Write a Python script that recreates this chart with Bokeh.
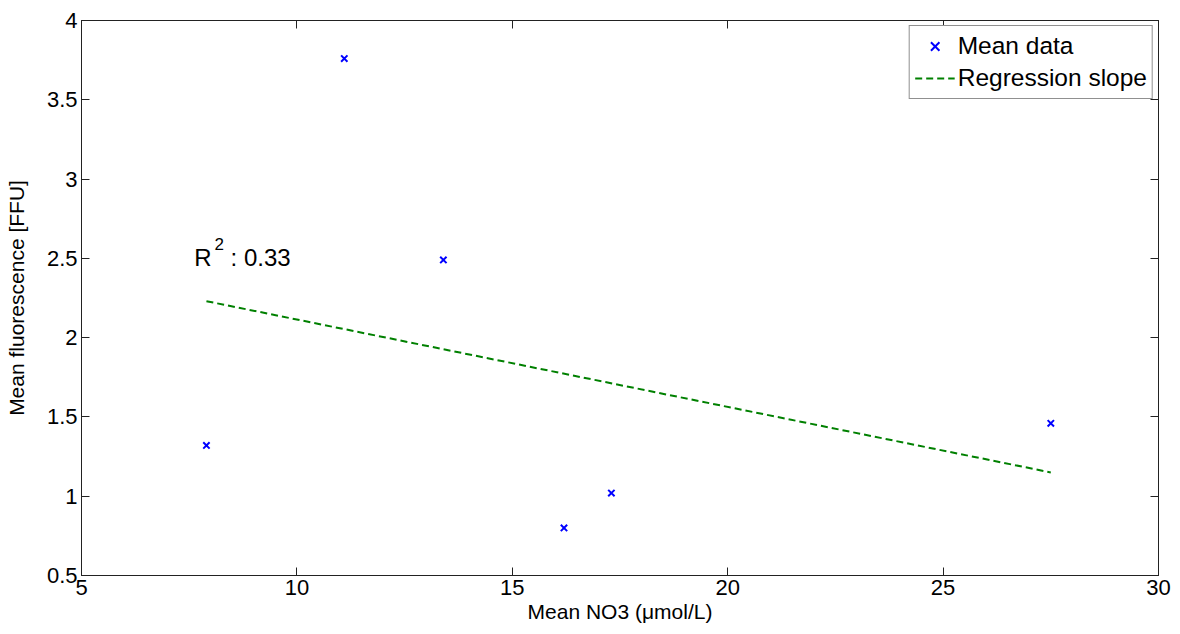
from bokeh.plotting import figure
from bokeh.models import (LinearAxis, FixedTicker, Legend, LegendItem, Label,
                          CustomJSTickFormatter, Range1d)
from bokeh.embed import file_html
from bokeh.resources import INLINE

# data
no3 = [7.9, 11.1, 13.4, 16.2, 17.3, 27.5]
fluor = [1.32, 3.76, 2.49, 0.80, 1.02, 1.46]
reg_x = [7.9, 27.5]
reg_y = [2.23, 1.15]
x_ticks = [5, 10, 15, 20, 25, 30]
y_ticks = [0.5, 1, 1.5, 2, 2.5, 3, 3.5, 4]
r2_text = ": 0.33"

FONT = "Liberation Sans"

p = figure(width=1172, height=626, output_backend="svg", toolbar_location=None,
           x_range=Range1d(5, 30), y_range=Range1d(0.5, 4),
           min_border_left=81, min_border_right=14, min_border_top=20,
           min_border_bottom=51, x_axis_type=None, y_axis_type=None)
p.xgrid.visible = False
p.ygrid.visible = False
p.outline_line_color = "#222222"
p.outline_line_width = 1
p.background_fill_color = "white"
p.border_fill_color = "white"

fmt = CustomJSTickFormatter(code="return tick.toString();")
blank = CustomJSTickFormatter(code="return '';")

def style(ax, labels=True):
    ax.axis_line_color = "#222222"
    ax.major_tick_line_color = "#222222"
    ax.major_tick_in = 8
    ax.major_tick_out = 0
    ax.minor_tick_line_color = None
    ax.major_label_text_font = FONT
    ax.major_label_text_font_size = "22px"
    ax.major_label_text_color = "black"
    ax.axis_label_text_font = FONT
    ax.axis_label_text_font_size = "21px"
    ax.axis_label_text_font_style = "normal"
    ax.axis_label_text_color = "black"
    ax.formatter = fmt if labels else blank

xb = LinearAxis(ticker=FixedTicker(ticks=x_ticks), axis_label="Mean NO3 (\u03bcmol/L)")
style(xb)
xb.major_label_standoff = 4
xb.axis_label_standoff = 2
p.add_layout(xb, "below")

yl = LinearAxis(ticker=FixedTicker(ticks=y_ticks), axis_label="Mean fluorescence [FFU]")
style(yl)
yl.major_label_standoff = 4
yl.axis_label_standoff = 16
p.add_layout(yl, "left")

xt = LinearAxis(ticker=FixedTicker(ticks=x_ticks))
style(xt, labels=False)
xt.major_label_text_font_size = "1px"
xt.major_label_standoff = 0
p.add_layout(xt, "above")

yr = LinearAxis(ticker=FixedTicker(ticks=y_ticks))
style(yr, labels=False)
yr.major_label_text_font_size = "1px"
yr.major_label_standoff = 0
p.add_layout(yr, "right")

pts = p.scatter(no3, fluor, marker="x", size=9, line_color="#0000FF", line_width=2)
reg = p.line(reg_x, reg_y, line_color="#008000", line_width=2, line_dash="7 4")

legend = Legend(items=[LegendItem(label="Mean data", renderers=[pts]),
                       LegendItem(label="Regression slope", renderers=[reg])],
                location="top_right")
legend.label_text_font = FONT
legend.label_text_font_size = "24.5px"
legend.label_text_color = "black"
legend.border_line_color = "#222222"
legend.border_line_width = 1
legend.background_fill_color = "white"
legend.background_fill_alpha = 1
legend.glyph_width = 40
legend.glyph_height = 30
legend.label_height = 30
legend.label_standoff = 3
legend.padding = 5
legend.spacing = 2
legend.margin = 5
p.add_layout(legend)

p.add_layout(Label(x=7.62, y=2.506, text="R", text_font=FONT, text_font_size="24px",
                   text_color="black", text_baseline="alphabetic"))
p.add_layout(Label(x=8.09, y=2.59, text="2", text_font=FONT, text_font_size="17px",
                   text_color="black", text_baseline="alphabetic"))
p.add_layout(Label(x=8.46, y=2.506, text=r2_text, text_font=FONT, text_font_size="24px",
                   text_color="black", text_baseline="alphabetic"))

open("out.html", "w").write(file_html(p, INLINE))
